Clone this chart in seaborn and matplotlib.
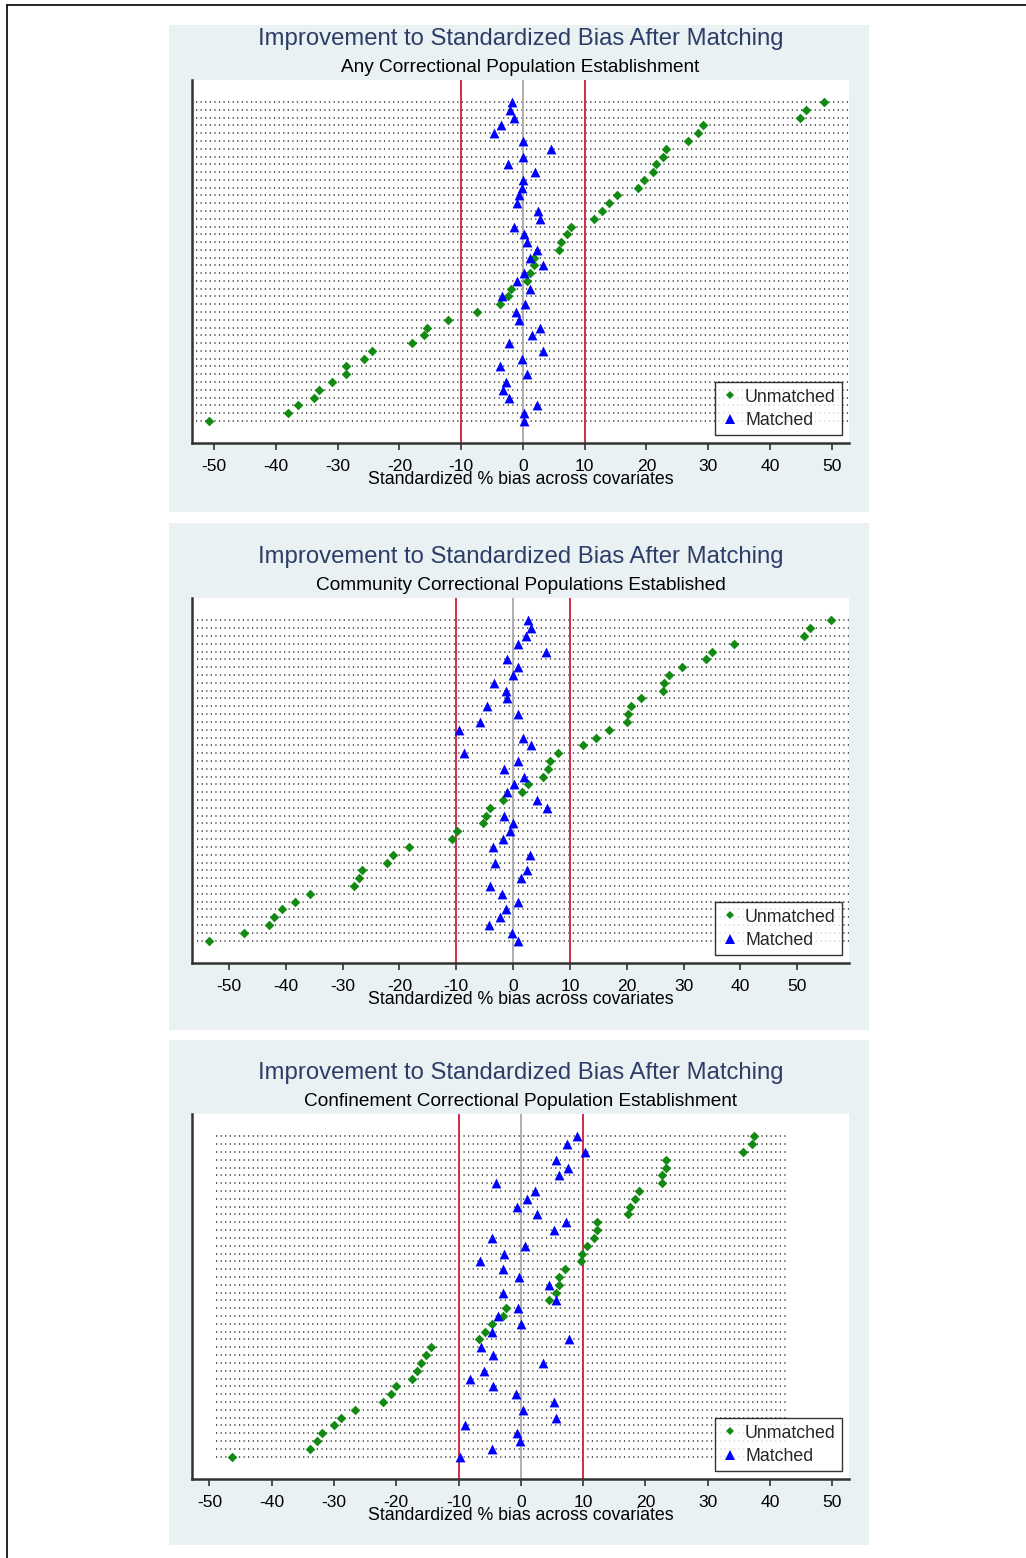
import numpy as np
import pandas as pd
import matplotlib
matplotlib.use('Agg')
import matplotlib.pyplot as plt
import seaborn as sns
from matplotlib.lines import Line2D
from matplotlib.patches import Rectangle

sns.set_theme(style='white')
plt.rcParams['font.family'] = ['Liberation Sans', 'DejaVu Sans']
plt.rcParams['axes.unicode_minus'] = False

# Titulos de cada panel
titulo = 'Improvement to Standardized Bias After Matching'
subtitulos = ['Any Correctional Population Establishment',
              'Community Correctional Populations Established',
              'Confinement Correctional Population Establishment']
eje_x = 'Standardized % bias across covariates'
ticks_x = [-50, -40, -30, -20, -10, 0, 10, 20, 30, 40, 50]

# Sesgo estandarizado (%) por covariable, ordenado como en la grafica (arriba -> abajo)
unmatched_any = [48.8, 45.9, 44.9, 29.2, 28.3, 26.8, 23.1, 22.6, 21.5, 21.1, 19.6, 18.7, 15.3, 14.0,
                 12.8, 11.5, 7.7, 7.2, 6.2, 5.8, 1.8, 1.8, 1.1, 0.6, -2.0, -2.5, -3.7, -7.5,
                 -12.2, -15.5, -16.0, -17.9, -24.5, -25.7, -28.7, -28.7, -30.9, -33.0, -33.9, -36.5, -38.1, -50.9]
matched_any = [-1.7, -2.1, -1.4, -3.5, -4.7, 0.0, 4.5, 0.0, -2.4, 2.0, 0.0, -0.2, -0.7, -1.0,
               2.5, 2.7, -1.4, 0.2, 0.7, 2.2, 1.2, 3.3, 0.1, -0.9, 1.2, -3.4, 0.4, -1.2,
               -0.7, 2.7, 1.4, -2.3, 3.3, -0.2, -3.7, 0.7, -2.7, -3.2, -2.3, 2.2, 0.2, 0.1]

unmatched_comm = [56.0, 52.2, 51.1, 38.8, 35.0, 33.9, 29.7, 27.4, 26.6, 26.3, 22.5, 20.8, 20.2, 20.0,
                  16.9, 14.6, 12.3, 7.9, 6.5, 6.1, 5.3, 2.7, 1.6, -1.7, -4.1, -4.7, -5.3, -9.8,
                  -10.8, -18.4, -21.1, -22.2, -26.6, -27.1, -28.0, -35.8, -38.4, -40.7, -42.0, -43.0, -47.4, -53.5]
matched_comm = [2.7, 3.1, 2.2, 0.8, 5.7, -1.0, 0.8, 0.0, -3.3, -1.3, -1.0, -4.6, 0.8, -5.9,
                -9.5, 1.7, 3.1, -8.6, 0.8, -1.6, 2.0, 0.1, -1.0, 4.2, 6.0, -1.6, 0.0, -0.5,
                -1.8, -3.5, 2.9, -3.1, 2.4, 1.3, -4.0, -1.9, 0.8, -1.3, -2.3, -4.2, -0.2, 0.8]

unmatched_conf = [37.4, 37.2, 35.6, 23.3, 23.3, 22.7, 22.7, 18.9, 18.4, 17.5, 17.2, 12.3, 12.3, 11.8,
                  10.6, 9.8, 9.6, 7.1, 6.2, 6.1, 5.7, 4.6, -2.4, -2.9, -4.7, -5.7, -6.7, -14.4,
                  -15.2, -16.1, -16.6, -17.4, -20.0, -20.8, -22.2, -26.6, -28.8, -30.0, -32.0, -32.8, -33.9, -46.3]
matched_conf = [9.1, 7.4, 10.3, 5.7, 7.5, 6.2, -4.0, 2.2, 1.0, -0.6, 2.6, 7.2, 5.3, -4.7,
                0.6, -2.7, -6.6, -2.9, -0.3, 4.6, -2.9, 5.7, -0.5, -3.6, 0.0, -4.6, 7.8, -6.4,
                -4.5, 3.5, -5.9, -8.1, -4.4, -0.8, 5.3, 0.3, 5.6, -9.0, -0.6, -0.2, -4.6, -9.7]

VERDE = '#138a13'
AZUL = '#0000ff'
ROJO = '#d42a4c'
FONDO = '#e9f1f3'

W, H = 1026, 1558
fig = plt.figure(figsize=(W / 100, H / 100), dpi=100)
fig.patch.set_facecolor('white')


def fx(px):
    return px / W


def fy(py):
    return 1 - py / H


# marco de la pagina
fig.add_artist(Line2D([fx(7), 1.0], [fy(5), fy(5)], color='black', lw=1.2))
fig.add_artist(Line2D([fx(7), fx(7)], [fy(5), 0.0], color='black', lw=1.2))

# (region, area de trazo, xlim, rango de las lineas punteadas)
layout = [
    ((169, 25, 869, 512), (192, 80, 849, 443), (-53.6, 52.8), (-53.0, 60)),
    ((169, 523, 869, 1030), (192, 598, 849, 963), (-56.5, 59.1), (-55.7, 62)),
    ((169, 1040, 869, 1545), (192, 1114, 849, 1479), (-52.8, 52.7), (-49.0, 42.7)),
]
datos = [(unmatched_any, matched_any), (unmatched_comm, matched_comm), (unmatched_conf, matched_conf)]

for i, ((rx0, ry0, rx1, ry1), (px0, py0, px1, py1), xlim, dots) in enumerate(layout):
    fig.add_artist(Rectangle((fx(rx0), fy(ry1)), fx(rx1) - fx(rx0), fy(ry0) - fy(ry1),
                             transform=fig.transFigure, facecolor=FONDO, edgecolor='none', zorder=0))
    ax = fig.add_axes([fx(px0), fy(py1), fx(px1) - fx(px0), fy(py0) - fy(py1)])
    ax.set_facecolor('white')

    unm, mat = datos[i]
    n = len(unm)
    filas = np.arange(n)
    df = pd.DataFrame({'fila': np.r_[filas, filas],
                       'bias': np.r_[unm, mat],
                       'muestra': ['Unmatched'] * n + ['Matched'] * n})

    ax.hlines(filas, dots[0], dots[1], colors='#333333', linewidth=1.1,
              linestyles=(0, (0.8, 2.2)), zorder=1)
    ax.axvline(0, color='#a8a8a8', lw=1.3, zorder=2)
    ax.axvline(-10, color=ROJO, lw=1.4, zorder=2)
    ax.axvline(10, color=ROJO, lw=1.4, zorder=2)

    sns.scatterplot(data=df[df['muestra'] == 'Unmatched'], x='bias', y='fila', color=VERDE,
                    marker='D', s=24, linewidth=0, ax=ax, zorder=3, legend=False)
    sns.scatterplot(data=df[df['muestra'] == 'Matched'], x='bias', y='fila', color=AZUL,
                    marker='^', s=50, linewidth=0, ax=ax, zorder=4, legend=False)

    ax.set_xlim(*xlim)
    ax.set_ylim(n - 1 + 2.85, -2.85)
    ax.set_yticks([])
    ax.set_ylabel('')
    ax.set_xticks(ticks_x)
    ax.set_xticklabels([str(t) for t in ticks_x])
    ax.tick_params(axis='x', bottom=True, length=5, width=1.2, color='#333333',
                   pad=6.2, labelsize=12.6, labelcolor='black')
    ax.set_xlabel(eje_x, fontsize=12.8, labelpad=-1.5, color='black')
    for lado in ['top', 'right']:
        ax.spines[lado].set_visible(False)
    for lado in ['left', 'bottom']:
        ax.spines[lado].set_color('#333333')
        ax.spines[lado].set_linewidth(1.8)

    handles = [Line2D([], [], marker='D', color=VERDE, linestyle='none', markersize=4.5, markeredgewidth=0),
               Line2D([], [], marker='^', color=AZUL, linestyle='none', markersize=7, markeredgewidth=0)]
    leg = ax.legend(handles, ['Unmatched', 'Matched'], loc='lower right',
                    bbox_to_anchor=(1 - 7 / (px1 - px0), 8 / (py1 - py0)), borderaxespad=0,
                    fontsize=12.8, frameon=True, fancybox=False, handlelength=1.0,
                    handletextpad=0.35, borderpad=0.35, labelspacing=0.35)
    leg.get_frame().set_edgecolor('black')
    leg.get_frame().set_linewidth(1.0)
    leg.set_zorder(5)

    cx = fx((px0 + px1) / 2)
    fig.text(cx, fy(py0 - 35), titulo, ha='center', va='baseline', fontsize=17.2, color='#2c3e68')
    fig.text(cx, fy(py0 - 8), subtitulos[i], ha='center', va='baseline', fontsize=13.7, color='black')

fig.savefig('out.png', dpi=100, facecolor='white')
